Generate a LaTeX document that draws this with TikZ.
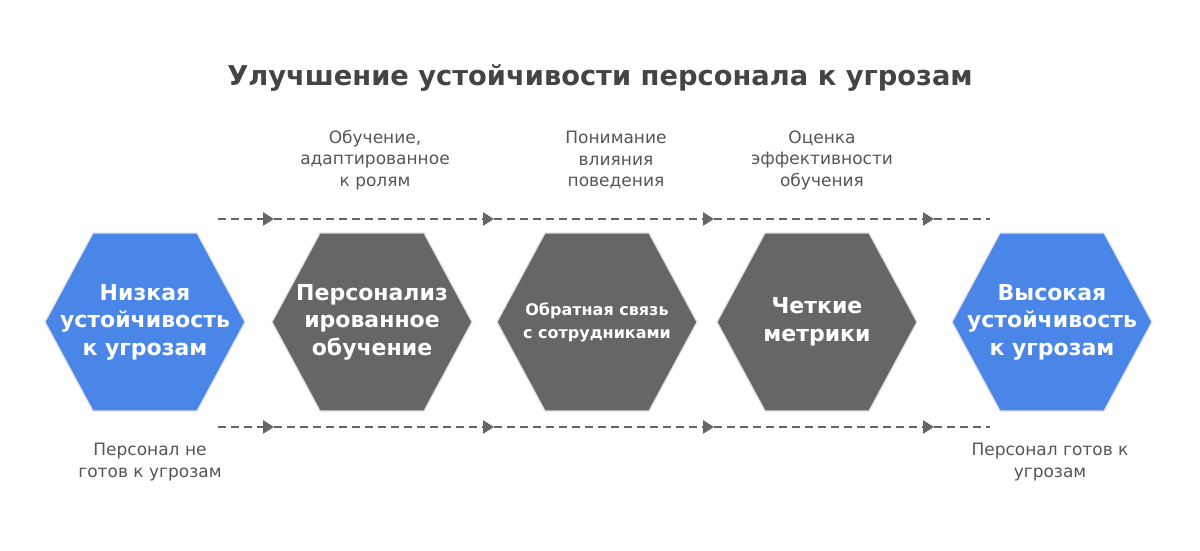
\documentclass[tikz,border=0pt]{standalone}
\usepackage{fontspec}
\setmainfont{DejaVu Sans}
\usepackage{xcolor}
\definecolor{cBlue}{HTML}{4A86E8}
\definecolor{cDark}{HTML}{666666}
\definecolor{cText}{HTML}{555555}
\definecolor{cTitle}{HTML}{444444}
\usetikzlibrary{arrows.meta}
\tikzset{
  hex-blue/.style={draw=white!88!black,line width=1.2pt,fill=cBlue},
  hex-dark/.style={draw=white!88!black,line width=1.2pt,fill=cDark},
  hex-text/.style={text=white,align=center,
    font=\bfseries\fontsize{22}{27.5}\selectfont},
  hex-small/.style={text=white,align=center,
    font=\bfseries\fontsize{16}{23}\selectfont},
  note/.style={text=cText,align=center,
    font=\fontsize{17}{21.5}\selectfont},
  flow/.style={line width=2.6pt,draw=cDark,dash pattern=on 8pt off 5pt},
  flow-arrow/.style={flow,-{Triangle[length=11pt,width=13pt]}},
}

\begin{document}
\begin{tikzpicture}[x=1pt,y=-1pt]
  \useasboundingbox (0,0) rectangle (1200,550);
  \node[text=cTitle,font=\bfseries\fontsize{27.3}{30}\selectfont]
    (title) at (600,78) {Улучшение устойчивости персонала к угрозам};

  % hexagons
  \foreach \name/\x/\kind in {low/145/blue, pers/372/dark, feed/597/dark,
      metr/817/dark, high/1052/blue} {
    \draw[hex-\kind] (\x,322) +(-100,0) -- +(-52,-89) -- +(52,-89)
      -- +(100,0) -- +(52,89) -- +(-52,89) -- cycle;
    \coordinate (\name) at (\x,322);
  }
  \node[hex-text] (low-t) at (low) {Низкая\\устойчивость\\к угрозам};
  \node[hex-text] (pers-t) at (pers) {Персонализ\\ированное\\обучение};
  \node[hex-small] (feed-t) at (feed) {Обратная связь\\с сотрудниками};
  \node[hex-text] (metr-t) at (metr) {Четкие\\метрики};
  \node[hex-text] (high-t) at (high) {Высокая\\устойчивость\\к угрозам};

  % dashed flow lines
  \foreach \row/\y in {up/219, dn/427} {
    \foreach \i/\x in {0/218, 1/274, 2/494, 3/714, 4/934, 5/990}
      \coordinate (\row\i) at (\x,\y);
    \draw[flow-arrow] (\row0) -- (\row1);
    \draw[flow-arrow] (\row1) -- (\row2);
    \draw[flow-arrow] (\row2) -- (\row3);
    \draw[flow-arrow] (\row3) -- (\row4);
    \draw[flow] (\row4) -- (\row5);
  }

  \node[note] (n-train) at (375,160) {Обучение,\\адаптированное\\к ролям};
  \node[note] (n-behav) at (616,160) {Понимание\\влияния\\поведения};
  \node[note] (n-eval) at (822,160) {Оценка\\эффективности\\обучения};
  \node[note] (n-notready) at (150,462) {Персонал не\\готов к угрозам};
  \node[note] (n-ready) at (1050,462) {Персонал готов к\\угрозам};
\end{tikzpicture}
\end{document}
